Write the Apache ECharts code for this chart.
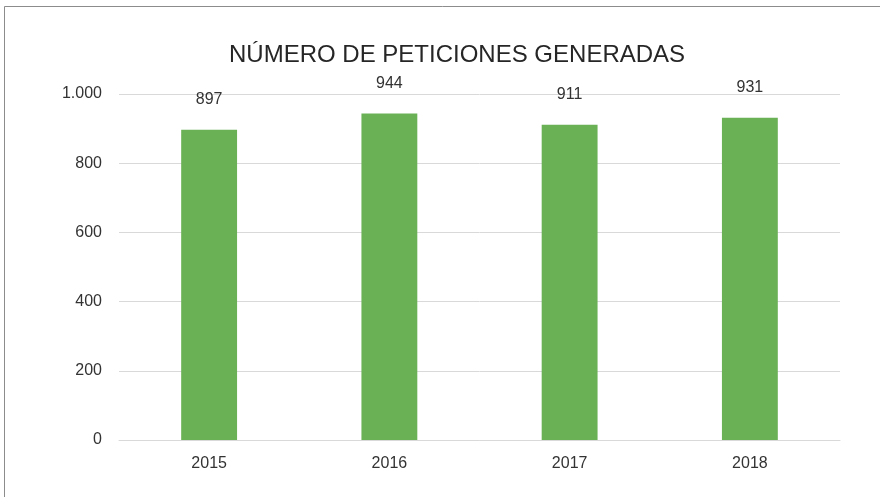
<!DOCTYPE html>
<html>
<head>
<meta charset="utf-8">
<script src="https://cdn.jsdelivr.net/npm/echarts@6/dist/echarts.min.js"></script>
<style>
  html, body { margin: 0; padding: 0; background: #fff; }
  #chart { width: 880px; height: 497px; }
</style>
</head>
<body>
<div id="chart"></div>
<script>
// años y peticiones
var years = ['2015', '2016', '2017', '2018'];
var peticiones = [897, 944, 911, 931];

var fmtMiles = function (v) {
    return String(v).replace(/\B(?=(\d{3})+(?!\d))/g, '.');
};

var chart = echarts.init(document.getElementById('chart'));
var option = {
    animation: false,
    textStyle: { fontFamily: 'Liberation Sans, Arial, sans-serif' },
    title: {
        text: 'NÚMERO DE PETICIONES GENERADAS',
        left: 224,
        top: 38,
        textStyle: { fontSize: 24, fontWeight: 'normal', color: '#262626' }
    },
    graphic: [{
        type: 'rect',
        shape: { x: 4.5, y: 6.5, width: 1000, height: 1000 },
        style: { fill: 'none', stroke: '#8c8c8c', lineWidth: 1 },
        silent: true
    }],
    grid: { left: 119, right: 40, top: 94, bottom: 57 },
    xAxis: {
        type: 'category',
        data: years,
        axisTick: { show: false },
        axisLine: { lineStyle: { color: '#d9d9d9' } },
        axisLabel: { color: '#333', fontSize: 16, margin: 16 }
    },
    yAxis: {
        type: 'value',
        min: 0,
        max: 1000,
        interval: 200,
        axisLine: { show: false },
        axisTick: { show: false },
        splitLine: { lineStyle: { color: '#d9d9d9' } },
        axisLabel: { color: '#333', fontSize: 16, margin: 17, formatter: fmtMiles }
    },
    series: [{
        type: 'bar',
        data: peticiones,
        barWidth: '31%',
        itemStyle: { color: '#6ab155' },
        label: {
            show: true,
            position: 'top',
            distance: 22,
            color: '#333',
            fontSize: 16
        }
    }]
};
chart.setOption(option);
</script>
</body>
</html>
